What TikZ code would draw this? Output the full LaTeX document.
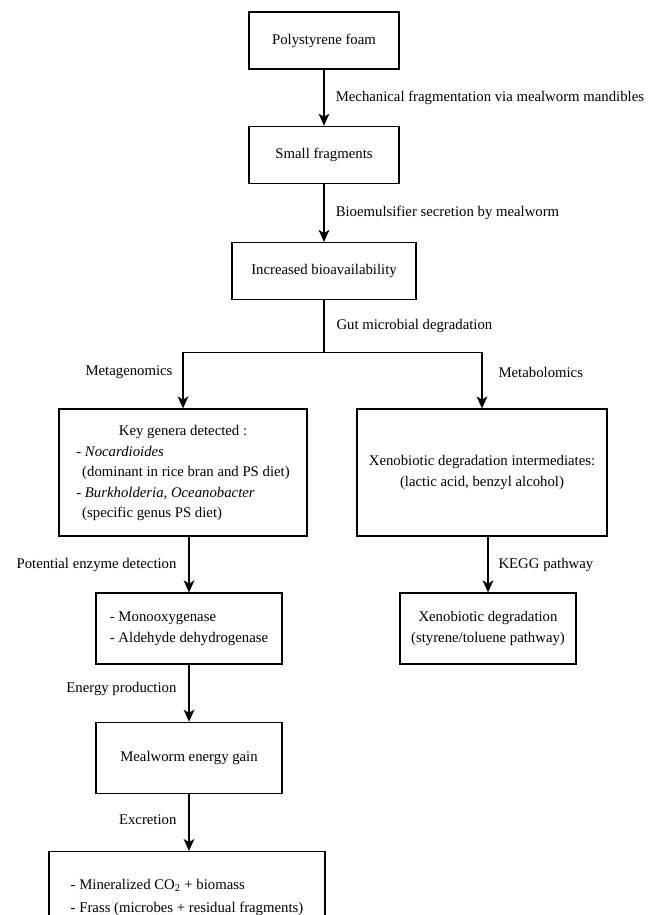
\documentclass[tikz,border=0pt]{standalone}
\usepackage{fontspec}
\setmainfont{Liberation Serif}
\usetikzlibrary{arrows.meta, positioning}

\begin{document}
\begin{tikzpicture}[
    every node/.style={font=\fontsize{10.5}{14.6}\selectfont},
    stepbox/.style={
        rectangle,
        draw=black,
        line width=0.9pt,
        minimum width=3.75cm,
        minimum height=1.425cm,
        inner sep=4pt,
        align=center
    },
    listbox/.style={
        stepbox,
        align=left
    },
    arrow/.style={
        line width=0.8pt,
        -{Stealth[length=3mm, width=2.7mm, inset=0.8mm]},
        draw=black
    },
    edgelabel/.style={
        inner sep=0pt
    }
]

% fixed frame of the figure
\useasboundingbox (0,0) rectangle (16.475,-22.875);

% ==================== MAIN COLUMN (TOP) ====================

\node (foam) [stepbox] at (8.1,-1.0125) {Polystyrene foam};
\node (frag) [stepbox, below=1.4cm of foam] {Small fragments};
\node (avail) [stepbox, minimum width=4.6cm, below=1.45cm of frag] {Increased bioavailability};
\coordinate (split) at (8.1,-8.8125);

% ==================== LEFT BRANCH: METAGENOMICS ====================

\node (genera) [stepbox, minimum width=6.2cm, minimum height=3.175cm] at (4.575,-11.8125) {\begin{tabular}{@{}l@{}}\multicolumn{1}{@{}c@{}}{Key genera detected :}\\ - \textit{Nocardioides}\\ \hspace*{0.4em}(dominant in rice bran and PS diet)\\ - \textit{Burkholderia, Oceanobacter}\\ \hspace*{0.4em}(specific genus PS diet)\end{tabular}};
\node (enzymes) [listbox, minimum width=4.65cm, minimum height=1.775cm] at (4.725,-15.7125) {- Monooxygenase\\- Aldehyde dehydrogenase};
\node (gain) [stepbox, minimum width=4.65cm, minimum height=1.775cm, below=1.425cm of enzymes] {Mealworm energy gain};
\node (output) [listbox, minimum width=6.9cm, minimum height=2.3cm, below=1.425cm of gain, xshift=-0.05cm] {- Mineralized CO\textsubscript{2} + biomass\\[1.7pt]- Frass (microbes + residual fragments)};

% ==================== RIGHT BRANCH: METABOLOMICS ====================

\node (interm) [stepbox, minimum width=6.25cm, minimum height=3.175cm] at (12.05,-11.8125) {Xenobiotic degradation intermediates:\\(lactic acid, benzyl alcohol)};
\node (xenodeg) [stepbox, minimum width=4.4cm, minimum height=1.775cm] at (12.2,-15.7125) {Xenobiotic degradation\\(styrene/toluene pathway)};

% Connections main column
\draw [arrow] (foam) -- node[edgelabel, right=0.28cm] {Mechanical fragmentation via mealworm mandibles} (frag);
\draw [arrow] (frag) -- node[edgelabel, right=0.28cm] {Bioemulsifier secretion by mealworm} (avail);
\draw [line width=0.8pt] (avail) -- node[edgelabel, right=0.3cm] {Gut microbial degradation} (split);

% Split into the two branches
\draw [arrow] (split) -| node[edgelabel, pos=0.68, left=0.25cm] {Metagenomics} (genera);
\draw [arrow] (split) -| node[edgelabel, pos=0.68, right=0.4cm] {Metabolomics} (interm);

% Connections left branch
\draw [arrow] (genera.south -| enzymes.north) -- node[edgelabel, left=0.3cm] {Potential enzyme detection} (enzymes.north);
\draw [arrow] (enzymes) -- node[edgelabel, pos=0.42, left=0.3cm] {Energy production} (gain);
\draw [arrow] (gain.south) -- node[edgelabel, pos=0.46, left=0.3cm] {Excretion} (gain.south |- output.north);

% Connections right branch
\draw [arrow] (interm.south -| xenodeg.north) -- node[edgelabel, right=0.25cm] {KEGG pathway} (xenodeg.north);

\end{tikzpicture}
\end{document}
